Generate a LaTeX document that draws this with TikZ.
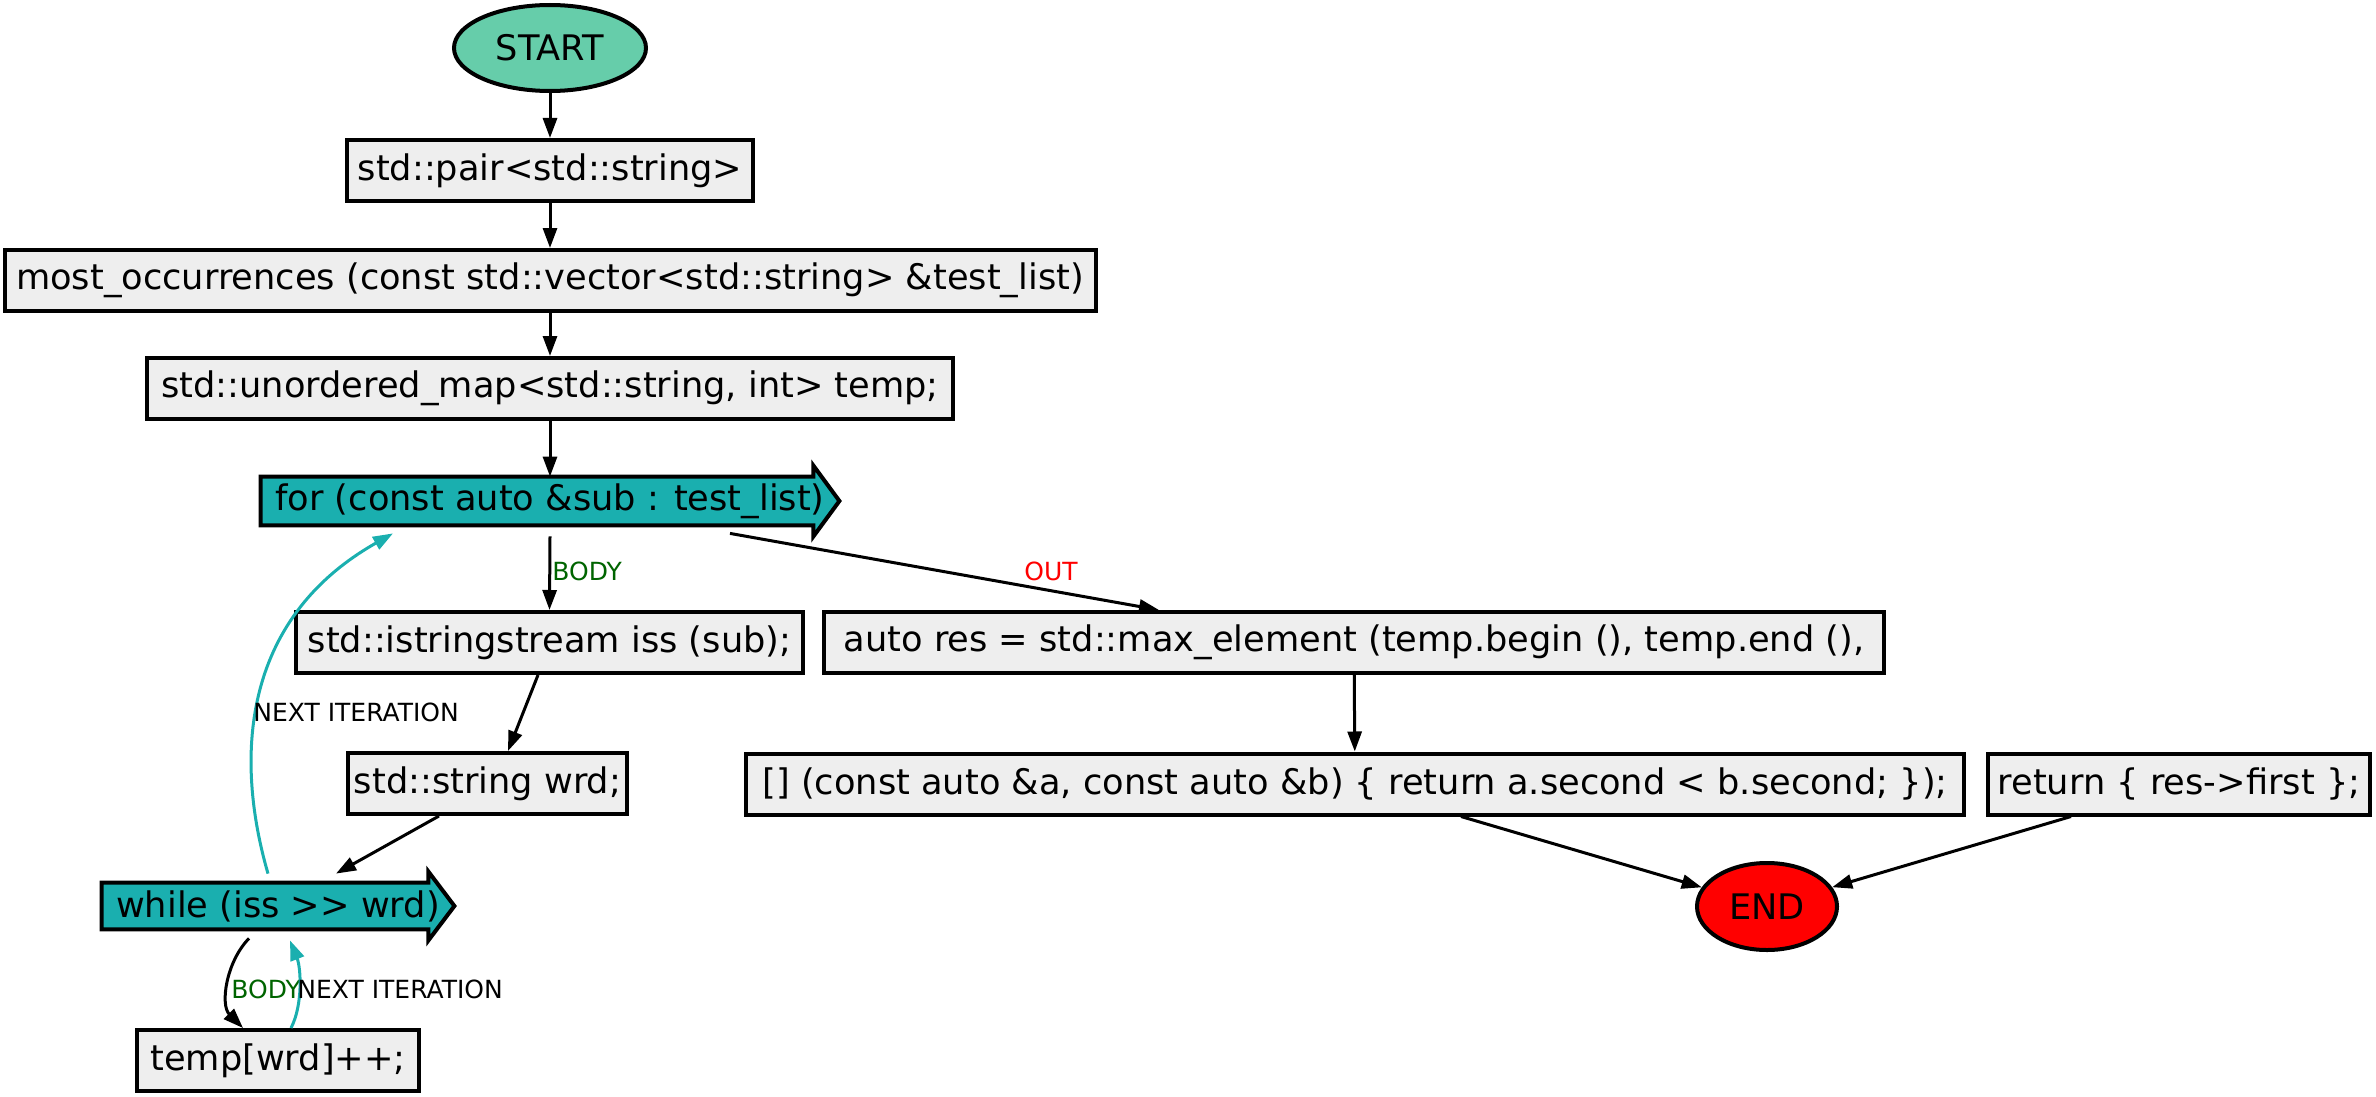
\documentclass[tikz,border=0pt]{standalone}
\usepackage{fontspec}
\setmainfont{DejaVu Sans}
\usetikzlibrary{arrows.meta,shapes.geometric}
\definecolor{boxfill}{HTML}{EEEEEE}
\definecolor{loopc}{HTML}{1AAFAF}
\definecolor{startc}{HTML}{66CDAA}
\definecolor{bodyc}{HTML}{006400}
\newcommand\mainf{\fontsize{17.6pt}{21pt}\selectfont}
\newcommand\labf{\fontsize{12.5pt}{15pt}\selectfont}
\begin{document}
\begin{tikzpicture}[x=0.5pt,y=-0.5pt,
  box/.style={draw, line width=2pt, fill=boxfill, rectangle, minimum height=30.5pt, inner sep=0pt, font=\mainf},
  loopnode/.style={inner sep=0pt, minimum height=35pt, font=\mainf},
  oval/.style={draw, line width=2pt, ellipse, inner sep=0pt, font=\mainf},
  edge/.style={line width=1.5pt, -{Triangle[length=10pt,width=7pt]}},
  loopedge/.style={edge, draw=loopc, -{Triangle[length=10pt,width=7pt,fill=loopc]}},
  lab/.style={font=\labf, inner sep=0pt, anchor=west}]
\useasboundingbox (0,0) rectangle (2376,1097);

% nodes
\node[oval, fill=startc, minimum width=96pt, minimum height=43pt] (start) at (550,48) {START};
\node[box, minimum width=203pt] (pair) at (550,170.5) {std::pair<std::string>};
\node[box, minimum width=545.5pt] (most) at (550,280.5) {most\_occurrences (const std::vector<std::string> \&test\_list)};
\node[box, minimum width=403pt] (umap) at (550,388.5) {std::unordered\_map<std::string, int> temp;};
\node[loopnode, minimum width=289pt] (for) at (550,501) {};
\node[box, minimum width=253.5pt] (iss) at (549.5,642.5) {std::istringstream iss (sub);};
\node[box, minimum width=530pt] (autores) at (1354,642.5) {auto res = std::max\_element (temp.begin (), temp.end (),};
\node[box, minimum width=139.5pt] (wrd) at (487.5,783.5) {std::string wrd;};
\node[box, minimum width=609pt] (lambda) at (1355,784) {[] (const auto \&a, const auto \&b) \{ return a.second < b.second; \});};
\node[box, minimum width=191pt] (ret) at (2179,784) {return \{ res->first \};};
\node[loopnode, minimum width=176pt, minimum height=34pt] (while) at (278,906) {};
\node[box, minimum width=141pt] (temp) at (278,1060.5) {temp[wrd]++;};
\node[oval, fill=red, minimum width=70pt, minimum height=43.5pt] (end) at (1767,906.5) {END};

% rarrow outlines
\foreach \n in {for,while}{
  \filldraw[line width=2pt, fill=loopc]
    ([yshift=-5.5pt]\n.north west) -- ([xshift=-13pt,yshift=-5.5pt]\n.north east) --
    ([xshift=-13pt]\n.north east) -- (\n.east) -- ([xshift=-13pt]\n.south east) --
    ([xshift=-13pt,yshift=5.5pt]\n.south east) -- ([yshift=5.5pt]\n.south west) -- cycle;
}
\node[loopnode] (fortext) at (for) {for (const auto \&sub : test\_list)};
\node[loopnode] (whiletext) at (while) {while (iss >{}> wrd)};

% edges
\draw[edge] (start) -- (pair);
\draw[edge] (pair) -- (most);
\draw[edge] (most) -- (umap);
\draw[edge] (umap.south) -- ([yshift=-5.5pt]for.north);
\draw[edge] (for.south) -- (iss.north);
\node[lab, text=bodyc] (lb1) at (552,571) {BODY};
\draw[edge] ([xshift=90pt,yshift=1.5pt]for.south) -- ([xshift=-97.5pt]autores.north);
\node[lab, text=red] (lout) at (1024,571) {OUT};
\draw[edge] ([xshift=-5.75pt]iss.south) -- ([xshift=10.25pt]wrd.north);
\draw[edge] ([xshift=-24.25pt]wrd.south) -- ([xshift=29pt,yshift=-1pt]while.north);
\draw[loopedge] ([xshift=-5pt,yshift=-1pt]while.north) .. controls (235,760) and (240,620) .. ([xshift=-78.5pt,yshift=1.5pt]for.south);
\node[lab] (lnext1) at (253,712) {NEXT ITERATION};
\draw[edge] ([xshift=-14.5pt,yshift=1pt]while.south) .. controls (226,962) and (220,1005) .. ([xshift=-17.5pt]temp.north);
\node[lab, text=bodyc] (lb2) at (231,989) {BODY};
\draw[loopedge] ([xshift=6.5pt]temp.north) .. controls (303,1005) and (301,968) .. ([xshift=6pt]while.south);
\node[lab] (lnext2) at (297,989) {NEXT ITERATION};
\draw[edge] (autores) -- (lambda);
\draw[edge] ([xshift=53pt]lambda.south) -- (end);
\draw[edge] ([xshift=-54pt]ret.south) -- (end);
\end{tikzpicture}
\end{document}
